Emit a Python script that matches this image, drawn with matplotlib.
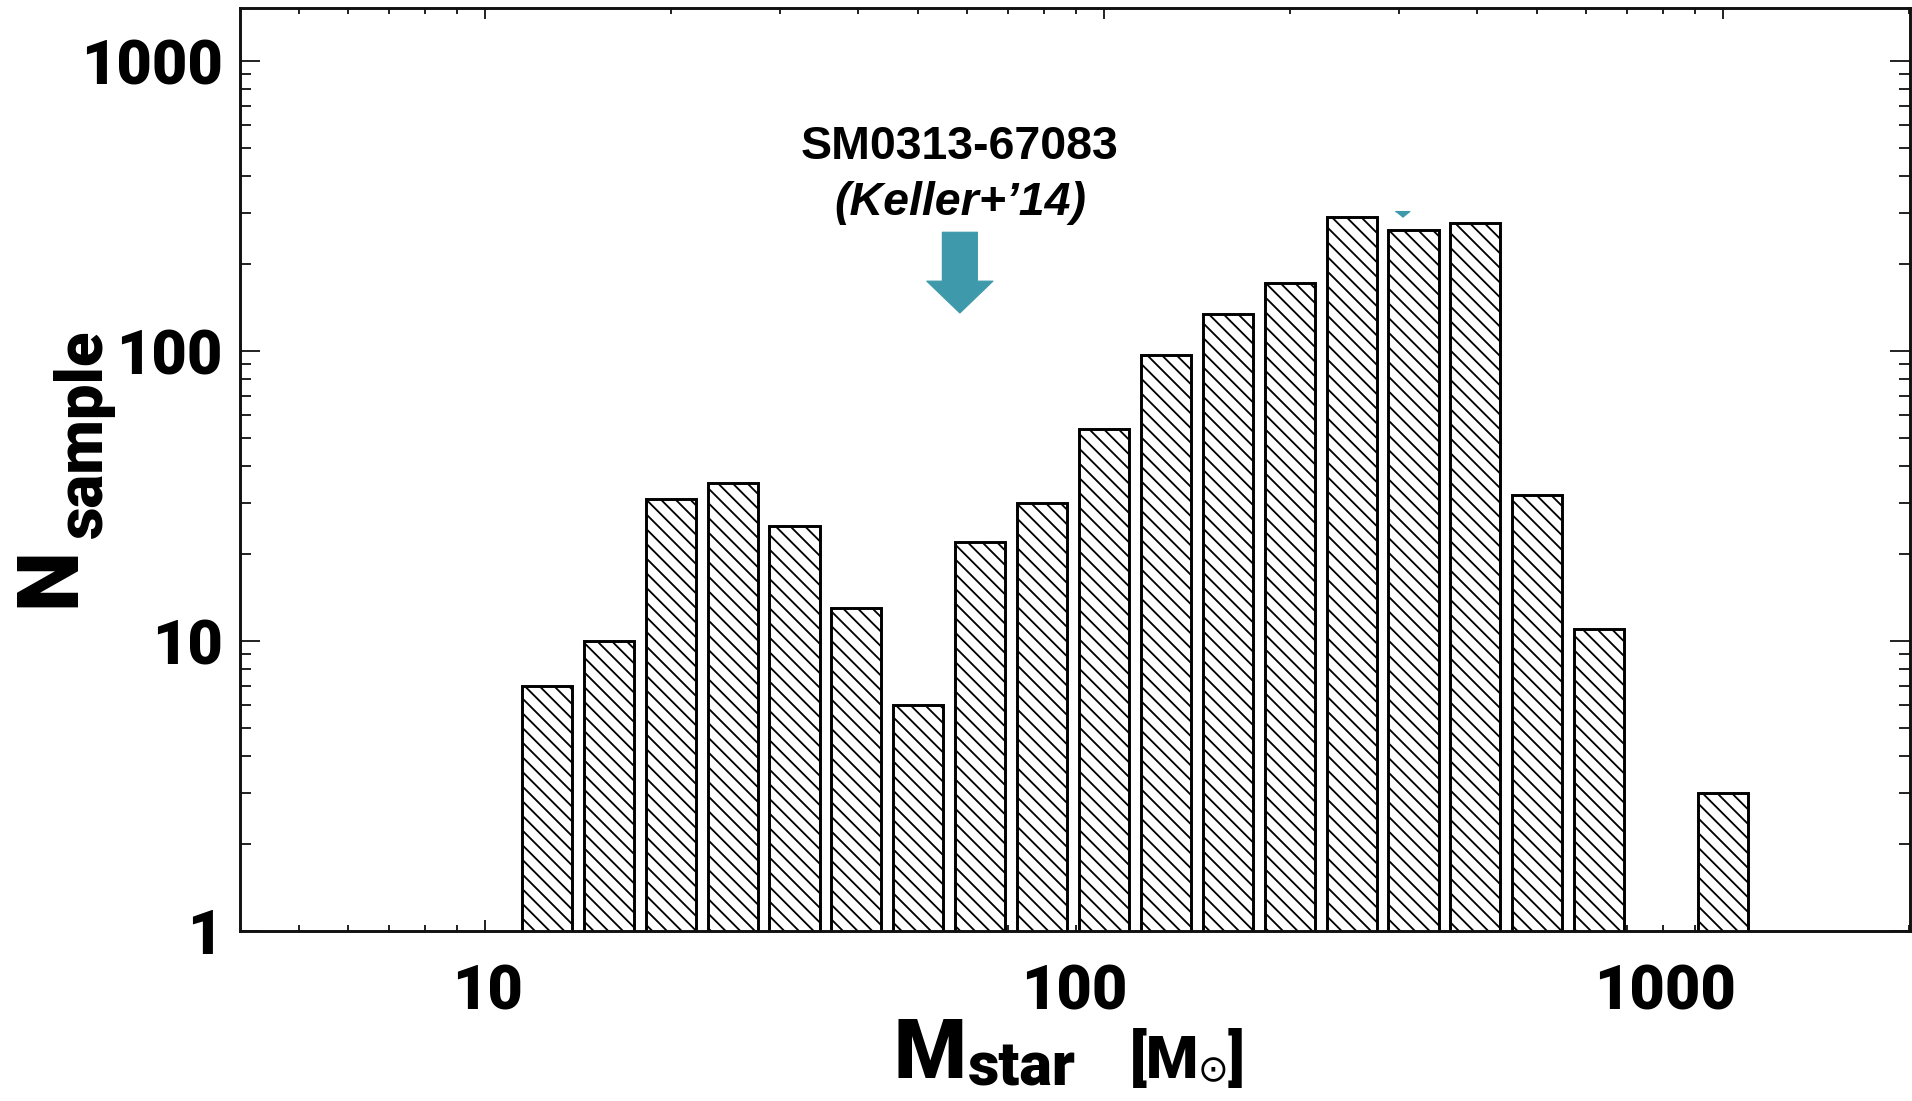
import numpy as np
import matplotlib
matplotlib.use("Agg")
import matplotlib.pyplot as plt
from matplotlib import font_manager as fm
from matplotlib.transforms import ScaledTranslation, blended_transform_factory
from matplotlib.ticker import FixedLocator, LogLocator, FuncFormatter, NullFormatter

# ---------------- data ----------------
log_bin_centers = [1.1, 1.2, 1.3, 1.4, 1.5, 1.6, 1.7, 1.8, 1.9, 2.0,
                   2.1, 2.2, 2.3, 2.4, 2.5, 2.6, 2.7, 2.8, 2.9, 3.0]
n_sample = [7, 10, 31, 35, 25, 13, 6, 22, 30, 54,
            97, 134, 171, 290, 261, 276, 32, 11, 0, 3]
x_tick_values = [10, 100, 1000]
y_tick_values = [1, 10, 100, 1000]
keller_star_mass = 58.5          # arrow position (M_star of SM0313-67083)
second_marker_mass = 303         # small teal marker
second_marker_n = 296
annot_line1 = "SM0313-67083"
annot_line2 = "(Keller+\u201914)"

# ---------------- style ----------------
DPI = 88
teal = "#3e9aaa"
plt.rcParams["font.family"] = ["Liberation Sans", "DejaVu Sans"]
plt.rcParams["font.weight"] = "bold"
plt.rcParams["hatch.linewidth"] = 1.5


def heavy_font(size):
    for fam in ["Roboto", "Noto Sans", "Open Sans", "Lato", "Inter"]:
        for f in fm.fontManager.ttflist:
            w = f.weight if isinstance(f.weight, int) else 0
            if f.name == fam and w >= 800 and f.style == "normal":
                return fm.FontProperties(fname=f.fname, size=size)
    return fm.FontProperties(family="Liberation Sans", weight="bold", size=size)


fig = plt.figure(figsize=(1912 / DPI, 1101 / DPI), dpi=DPI)
ax = fig.add_axes([240 / 1912, 1 - 931 / 1101, (1910 - 240) / 1912, (931 - 8) / 1101])

centers = np.array(log_bin_centers)
counts = np.array(n_sample, dtype=float)
half_w = 0.0405
left = 10 ** (centers - half_w)
right = 10 ** (centers + half_w)
mask = counts > 0
ax.bar(left[mask], counts[mask], width=(right - left)[mask], align="edge",
       facecolor="white", edgecolor="black", hatch="\\\\", linewidth=2.4, zorder=2)

ax.set_xscale("log")
ax.set_yscale("log")
ax.set_xlim(4.02, 2005)
ax.set_ylim(1, 1524)

ax.xaxis.set_major_locator(FixedLocator(x_tick_values))
ax.yaxis.set_major_locator(FixedLocator(y_tick_values))
ax.xaxis.set_minor_locator(LogLocator(base=10, subs=np.arange(2, 10)))
ax.yaxis.set_minor_locator(LogLocator(base=10, subs=np.arange(2, 10)))
fmt = FuncFormatter(lambda v, p: f"{v:g}")
ax.xaxis.set_major_formatter(fmt)
ax.yaxis.set_major_formatter(fmt)
ax.xaxis.set_minor_formatter(NullFormatter())
ax.yaxis.set_minor_formatter(NullFormatter())

ax.tick_params(which="both", direction="in", top=True, right=True, color="#222222", width=1.6)
ax.tick_params(axis="y", which="major", length=16, pad=14)
ax.tick_params(axis="y", which="minor", length=9)
ax.tick_params(axis="x", which="major", length=9, pad=27)
ax.tick_params(axis="x", which="minor", length=5)
for s in ax.spines.values():
    s.set_linewidth(2.4)
    s.set_color("#111111")

tick_fp = heavy_font(50)
for tick in ax.yaxis.get_major_ticks():
    tick.label1.set_fontproperties(tick_fp)
# x tick labels placed as in the reference
label_shift_px = [3, -30, -58]
for tick, dx in zip(ax.xaxis.get_major_ticks(), label_shift_px):
    tick.label1.set_fontproperties(tick_fp)
    tick.label1.set_transform(tick.label1.get_transform() +
                              ScaledTranslation(dx / DPI, 0, fig.dpi_scale_trans))

# y axis label: N_sample
fig.text(74 / 1912, 1 - 607 / 1101, "N", rotation=90, rotation_mode="anchor",
         fontproperties=heavy_font(70), ha="left", va="baseline")
fig.text(102 / 1912, 1 - 538 / 1101, "sample", rotation=90, rotation_mode="anchor",
         fontproperties=heavy_font(52), ha="left", va="baseline")

# x axis label: M_star [M_sun]
fig.text(893 / 1912, 1 - 1078 / 1101, "M", fontproperties=heavy_font(68),
         ha="left", va="baseline")
fig.text(968 / 1912, 1 - 1085 / 1101, "star", fontproperties=heavy_font(50),
         ha="left", va="baseline")
fig.text(1130 / 1912, 1 - 1078 / 1101, "[M", fontproperties=heavy_font(49),
         ha="left", va="baseline")
fig.text(1213 / 1912, 1 - 1071 / 1101, "\u2299", family="DejaVu Sans", fontweight="normal",
         fontsize=30, ha="center", va="center")
fig.text(1228 / 1912, 1 - 1078 / 1101, "]", fontproperties=heavy_font(49),
         ha="left", va="baseline")

# annotation
trans = blended_transform_factory(ax.transData, ax.transAxes)
ax.text(keller_star_mass, 0.8364, annot_line1, transform=trans, fontsize=38,
        fontweight="bold", ha="center", va="baseline")
ax.text(keller_star_mass, 0.7757, annot_line2, transform=trans, fontsize=38,
        fontweight="bold", style="italic", ha="center", va="baseline")
ax.annotate("", xy=(keller_star_mass, 0.6696), xycoords=trans,
            xytext=(keller_star_mass, 0.757), textcoords=trans,
            arrowprops=dict(arrowstyle="simple,head_length=1.3,head_width=2.7,tail_width=1.43",
                            color=teal, shrinkA=0, shrinkB=0, mutation_scale=20))
ax.plot([second_marker_mass], [second_marker_n], linestyle="none",
        marker=[(-1, 0.4), (1, 0.4), (0, -0.4)], markersize=12, color=teal, zorder=3)

fig.savefig("out.png", dpi=DPI, facecolor="white")
